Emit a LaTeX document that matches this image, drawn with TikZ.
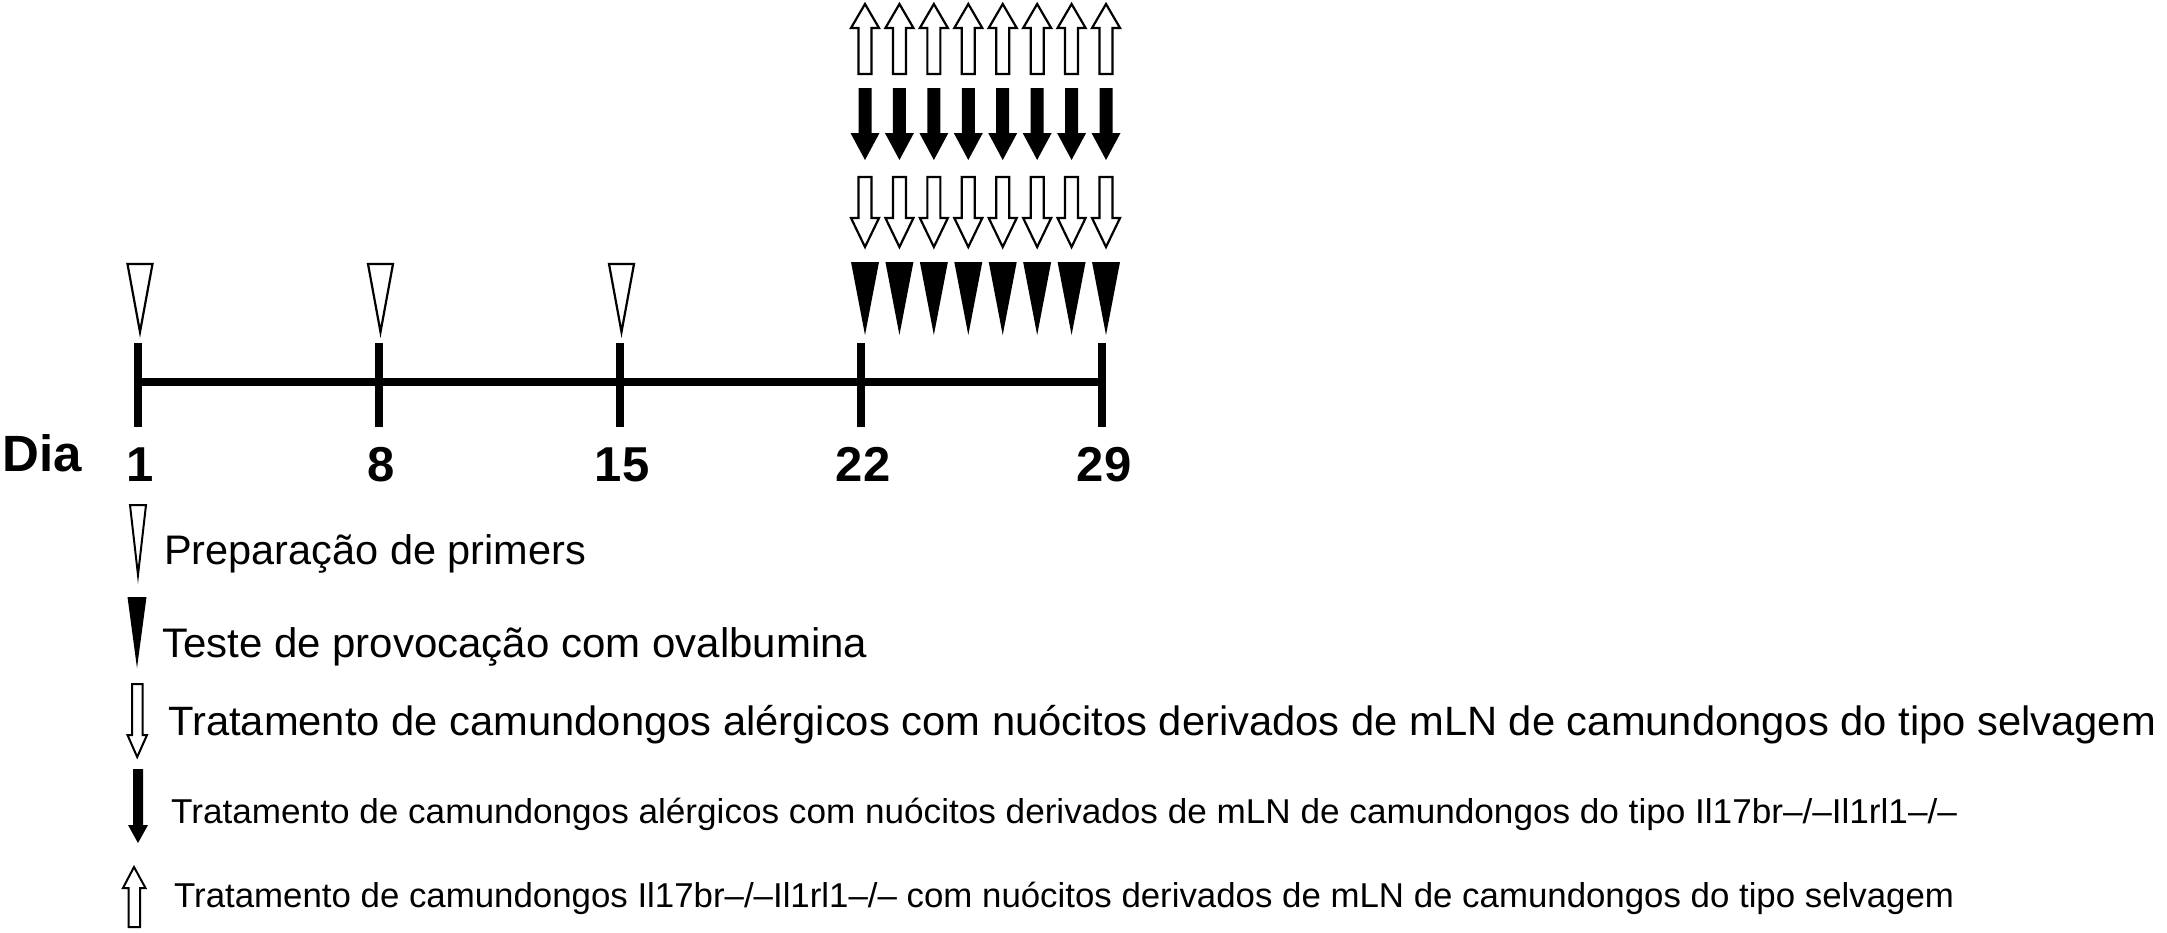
\documentclass[tikz,border=0pt]{standalone}
\usepackage{fontspec}
\usepackage{graphicx}
\setmainfont{Liberation Sans}
\begin{document}
\begin{tikzpicture}[x=1pt,y=-1pt,
  openstroke/.style={draw=black,fill=white,line width=2.2pt,line join=miter},
  solidfill/.style={fill=black,draw=none},
  legtext/.style={anchor=base west,inner sep=0pt},
  daylabel/.style={anchor=base,inner sep=0pt,font=\bfseries\fontsize{49}{50}\selectfont},
  axisline/.style={line width=8pt,line cap=butt},
  openup/.pic={\path[openstroke] (0,0) -- (14,24) -- (6.5,24) -- (6.5,70) -- (-6.5,70) -- (-6.5,24) -- (-14,24) -- cycle;},
  soliddown/.pic={\path[solidfill] (-6.5,0) -- (6.5,0) -- (6.5,45) -- (14.5,45) -- (0,72) -- (-14.5,45) -- (-6.5,45) -- cycle;},
  opendown/.pic={\path[openstroke] (-6.5,0) -- (6.5,0) -- (6.5,41) -- (14,41) -- (0,70) -- (-14,41) -- (-6.5,41) -- cycle;},
  solidtri/.pic={\path[solidfill] (-14,0) -- (14,0) -- (0,73) -- cycle;},
  opentri/.pic={\path[openstroke] (-12.5,0) -- (12.5,0) -- (0,68) -- cycle;}
]
\useasboundingbox (0,0) rectangle (2167,932);

% timeline
\draw[axisline] (138,382) -- (1102,382);
\foreach \x/\d in {138/1,379/8,620/15,861/22,1102/29}{
  \draw[axisline] (\x,343) -- (\x,427);
  \node[daylabel] (day\d) at (\x+2,481) {\d};
}
\node[anchor=base west,inner sep=0pt,font=\bfseries\fontsize{51}{52}\selectfont] (dia) at (2,471) {Dia};

% open triangles at days 1, 8, 15
\foreach \x in {140,380.5,621.5}{
  \pic at (\x,264) {opentri};
}

% columns of symbols, days 22 to 29
\foreach \i in {0,...,7}{
  \pgfmathsetmacro{\cx}{865+\i*34.43}
  \pic at (\cx,4) {openup};
  \pic at (\cx,88) {soliddown};
  \pic at (\cx,177) {opendown};
  \pic at (\cx,262) {solidtri};
}

% legend symbols
\path[openstroke,line width=2pt] (130,505) -- (146,505) -- (138,575) -- cycle;
\path[solidfill] (127.5,597) -- (146.5,597) -- (137,668) -- cycle;
\path[openstroke,line width=2pt] (132,684) -- (142.5,684) -- (142.5,735) -- (147,735) -- (137.2,757) -- (127.5,735) -- (132,735) -- cycle;
\path[solidfill] (133,769) -- (143,769) -- (143,825) -- (148,825) -- (138,843) -- (128,825) -- (133,825) -- cycle;
\path[openstroke,line width=2pt] (134,867) -- (145.5,888) -- (140,888) -- (140,927) -- (128.5,927) -- (128.5,888) -- (123,888) -- cycle;

% legend texts
\node[legtext] (t1) at (164,564) {\resizebox{422pt}{\height}{\fontsize{41.3}{44}\selectfont Preparação de primers}};
\node[legtext] (t2) at (162,657) {\resizebox{705pt}{\height}{\fontsize{41.3}{44}\selectfont Teste de provocação com ovalbumina}};
\node[legtext] (t3) at (168,735) {\resizebox{1988pt}{\height}{\fontsize{41}{44}\selectfont Tratamento de camundongos alérgicos com nuócitos derivados de mLN de camundongos do tipo selvagem}};
\node[legtext] (t4) at (171,823) {\resizebox{1786pt}{\height}{\fontsize{34.5}{38}\selectfont Tratamento de camundongos alérgicos com nuócitos derivados de mLN de camundongos do tipo Il17br–/–Il1rl1–/–}};
\node[legtext] (t5) at (174,907) {\resizebox{1780pt}{\height}{\fontsize{34.5}{38}\selectfont Tratamento de camundongos Il17br–/–Il1rl1–/– com nuócitos derivados de mLN de camundongos do tipo selvagem}};
\end{tikzpicture}
\end{document}
